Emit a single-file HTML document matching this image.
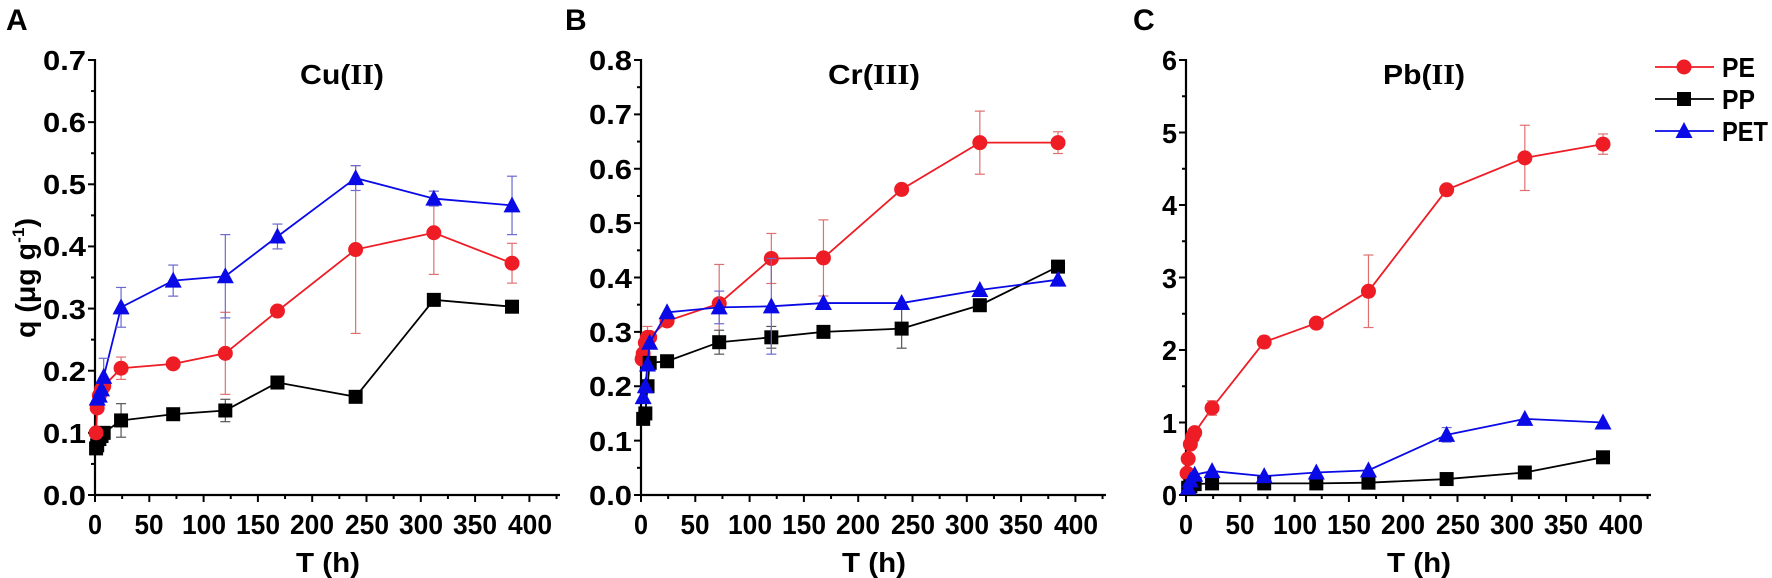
<!DOCTYPE html>
<html><head><meta charset="utf-8"><style>
html,body{margin:0;padding:0;background:#fff;}
svg{display:block;font-family:"Liberation Sans",Arial,sans-serif;font-weight:bold;}
</style></head><body>
<svg id="s" width="1772" height="578" viewBox="0 0 1772 578" xmlns="http://www.w3.org/2000/svg">
<g font-size="30" fill="#000">
<text x="6" y="30">A</text>
<text x="565" y="30">B</text>
<text x="1133" y="30">C</text>
</g>
<g id="plots"></g>
<g font-size="28" fill="#000">
<text x="300" y="84" textLength="84" lengthAdjust="spacingAndGlyphs">Cu(<tspan font-family="Liberation Serif,serif">II</tspan>)</text>
<text x="828" y="84" textLength="92" lengthAdjust="spacingAndGlyphs">Cr(<tspan font-family="Liberation Serif,serif">III</tspan>)</text>
<text x="1383" y="84" textLength="82" lengthAdjust="spacingAndGlyphs">Pb(<tspan font-family="Liberation Serif,serif">II</tspan>)</text>
<text x="328" y="572" text-anchor="middle" textLength="64" lengthAdjust="spacingAndGlyphs">T (h)</text>
<text x="874" y="572" text-anchor="middle" textLength="64" lengthAdjust="spacingAndGlyphs">T (h)</text>
<text x="1419" y="572" text-anchor="middle" textLength="64" lengthAdjust="spacingAndGlyphs">T (h)</text>
<text transform="translate(35,278) rotate(-90)" text-anchor="middle" textLength="120" lengthAdjust="spacingAndGlyphs">q (μg g<tspan font-size="17" dy="-11">-1</tspan><tspan dy="11">)</tspan></text>
<text x="1722" y="77" textLength="33" lengthAdjust="spacingAndGlyphs">PE</text>
<text x="1722" y="109" textLength="33" lengthAdjust="spacingAndGlyphs">PP</text>
<text x="1722" y="141" textLength="46" lengthAdjust="spacingAndGlyphs">PET</text>
</g>
<g font-size="28" fill="#000" text-anchor="end">
<text x="86" y="505" textLength="43" lengthAdjust="spacingAndGlyphs">0.0</text>
<text x="86" y="443" textLength="43" lengthAdjust="spacingAndGlyphs">0.1</text>
<text x="86" y="381" textLength="43" lengthAdjust="spacingAndGlyphs">0.2</text>
<text x="86" y="319" textLength="43" lengthAdjust="spacingAndGlyphs">0.3</text>
<text x="86" y="256" textLength="43" lengthAdjust="spacingAndGlyphs">0.4</text>
<text x="86" y="194" textLength="43" lengthAdjust="spacingAndGlyphs">0.5</text>
<text x="86" y="132" textLength="43" lengthAdjust="spacingAndGlyphs">0.6</text>
<text x="86" y="70" textLength="43" lengthAdjust="spacingAndGlyphs">0.7</text>
<text x="632" y="505" textLength="43" lengthAdjust="spacingAndGlyphs">0.0</text>
<text x="632" y="451" textLength="43" lengthAdjust="spacingAndGlyphs">0.1</text>
<text x="632" y="396" textLength="43" lengthAdjust="spacingAndGlyphs">0.2</text>
<text x="632" y="342" textLength="43" lengthAdjust="spacingAndGlyphs">0.3</text>
<text x="632" y="288" textLength="43" lengthAdjust="spacingAndGlyphs">0.4</text>
<text x="632" y="233" textLength="43" lengthAdjust="spacingAndGlyphs">0.5</text>
<text x="632" y="179" textLength="43" lengthAdjust="spacingAndGlyphs">0.6</text>
<text x="632" y="124" textLength="43" lengthAdjust="spacingAndGlyphs">0.7</text>
<text x="632" y="70" textLength="43" lengthAdjust="spacingAndGlyphs">0.8</text>
<text x="1177" y="505" textLength="15" lengthAdjust="spacingAndGlyphs">0</text>
<text x="1177" y="433" textLength="15" lengthAdjust="spacingAndGlyphs">1</text>
<text x="1177" y="360" textLength="15" lengthAdjust="spacingAndGlyphs">2</text>
<text x="1177" y="288" textLength="15" lengthAdjust="spacingAndGlyphs">3</text>
<text x="1177" y="215" textLength="15" lengthAdjust="spacingAndGlyphs">4</text>
<text x="1177" y="143" textLength="15" lengthAdjust="spacingAndGlyphs">5</text>
<text x="1177" y="70" textLength="15" lengthAdjust="spacingAndGlyphs">6</text>
</g>
<g font-size="28" fill="#000" text-anchor="middle">
<text x="95" y="534" textLength="14" lengthAdjust="spacingAndGlyphs">0</text>
<text x="149" y="534" textLength="29" lengthAdjust="spacingAndGlyphs">50</text>
<text x="204" y="534" textLength="44" lengthAdjust="spacingAndGlyphs">100</text>
<text x="258" y="534" textLength="44" lengthAdjust="spacingAndGlyphs">150</text>
<text x="312" y="534" textLength="44" lengthAdjust="spacingAndGlyphs">200</text>
<text x="367" y="534" textLength="44" lengthAdjust="spacingAndGlyphs">250</text>
<text x="421" y="534" textLength="44" lengthAdjust="spacingAndGlyphs">300</text>
<text x="475" y="534" textLength="44" lengthAdjust="spacingAndGlyphs">350</text>
<text x="530" y="534" textLength="44" lengthAdjust="spacingAndGlyphs">400</text>
<text x="641" y="534" textLength="14" lengthAdjust="spacingAndGlyphs">0</text>
<text x="695" y="534" textLength="29" lengthAdjust="spacingAndGlyphs">50</text>
<text x="750" y="534" textLength="44" lengthAdjust="spacingAndGlyphs">100</text>
<text x="804" y="534" textLength="44" lengthAdjust="spacingAndGlyphs">150</text>
<text x="858" y="534" textLength="44" lengthAdjust="spacingAndGlyphs">200</text>
<text x="913" y="534" textLength="44" lengthAdjust="spacingAndGlyphs">250</text>
<text x="967" y="534" textLength="44" lengthAdjust="spacingAndGlyphs">300</text>
<text x="1021" y="534" textLength="44" lengthAdjust="spacingAndGlyphs">350</text>
<text x="1076" y="534" textLength="44" lengthAdjust="spacingAndGlyphs">400</text>
<text x="1186" y="534" textLength="14" lengthAdjust="spacingAndGlyphs">0</text>
<text x="1240" y="534" textLength="29" lengthAdjust="spacingAndGlyphs">50</text>
<text x="1295" y="534" textLength="44" lengthAdjust="spacingAndGlyphs">100</text>
<text x="1349" y="534" textLength="44" lengthAdjust="spacingAndGlyphs">150</text>
<text x="1403" y="534" textLength="44" lengthAdjust="spacingAndGlyphs">200</text>
<text x="1458" y="534" textLength="44" lengthAdjust="spacingAndGlyphs">250</text>
<text x="1512" y="534" textLength="44" lengthAdjust="spacingAndGlyphs">300</text>
<text x="1566" y="534" textLength="44" lengthAdjust="spacingAndGlyphs">350</text>
<text x="1621" y="534" textLength="44" lengthAdjust="spacingAndGlyphs">400</text>
</g>
</svg>
<script>
var NS="http://www.w3.org/2000/svg",G=document.getElementById("plots");
function el(t,a){var e=document.createElementNS(NS,t);for(var k in a)e.setAttribute(k,a[k]);G.appendChild(e);return e;}
var Y0=495,YT=60,XS=54.3/50;
function marker(type,x,y,c){
 if(type=="c")el("circle",{cx:x,cy:y,r:7.5,fill:c});
 else if(type=="s")el("rect",{x:x-7,y:y-7,width:14,height:14,fill:c});
 else el("polygon",{points:(x-8.5)+","+(y+7)+" "+(x+8.5)+","+(y+7)+" "+x+","+(y-9),fill:c});
}
function panel(x0,ymax,ystep,series){
 var sy=(Y0-YT)/ymax;
 el("line",{x1:x0,y1:Y0,x2:x0,y2:YT-1,stroke:"#000","stroke-width":2.2});
 el("line",{x1:x0-1,y1:Y0,x2:x0+465,y2:Y0,stroke:"#000","stroke-width":2.2});
 for(var v=0;v<=ymax+1e-9;v+=ystep/2){var y=Y0-v*sy;var maj=Math.abs(Math.round(v/ystep)*ystep-v)<1e-9;
  el("line",{x1:x0-(maj?7:4),y1:y,x2:x0,y2:y,stroke:"#000","stroke-width":2});}
 for(var t=0;t<=425;t+=25){var x=x0+t*XS;var maj=t%50==0;
  el("line",{x1:x,y1:Y0,x2:x,y2:Y0+(maj?7:4),stroke:"#000","stroke-width":2});}
 series.forEach(function(s){
  var pts=s.d.map(function(p){return [x0+p[0]*XS,Y0-p[1]*sy,p[2]||0];});
  el("polyline",{points:pts.map(function(p){return p[0]+","+p[1]}).join(" "),fill:"none",stroke:s.c,"stroke-width":1.8});
  pts.forEach(function(p){if(p[2]){var e=p[2]*sy;
   el("line",{x1:p[0],y1:p[1]-e,x2:p[0],y2:p[1]+e,stroke:s.ec,"stroke-width":1.2});
   el("line",{x1:p[0]-5,y1:p[1]-e,x2:p[0]+5,y2:p[1]-e,stroke:s.ec,"stroke-width":1.2});
   el("line",{x1:p[0]-5,y1:p[1]+e,x2:p[0]+5,y2:p[1]+e,stroke:s.ec,"stroke-width":1.2});}});
  pts.forEach(function(p){marker(s.m,p[0],p[1],s.mc);});
 });
}
var R="#ee1c25",B="#0a0ae6";
panel(95,0.7,0.1,[
 {m:"s",c:"#000",mc:"#000",ec:"#555",d:[[1,0.075],[2,0.08],[4,0.09],[6,0.095],[8,0.1],[24,0.12,0.027],[72,0.13],[120,0.136,0.018],[168,0.181],[240,0.158],[312,0.314],[384,0.303]]},
 {m:"c",c:R,mc:R,ec:"#e07070",d:[[1,0.1],[2,0.14],[4,0.16],[6,0.17],[8,0.175],[24,0.204,0.018],[72,0.211],[120,0.228,0.066],[168,0.296],[240,0.395,0.135],[312,0.422,0.067],[384,0.373,0.032]]},
 {m:"t",c:B,mc:B,ec:"#6a6ad0",d:[[2,0.155],[4,0.16],[6,0.17],[8,0.19,0.03],[24,0.302,0.032],[72,0.345,0.025],[120,0.352,0.067],[168,0.416,0.02],[240,0.51,0.02],[312,0.477,0.012],[384,0.466,0.047]]}
]);
panel(641,0.8,0.1,[
 {m:"c",c:R,mc:R,ec:"#e07070",d:[[1,0.25],[2,0.26],[4,0.28],[6,0.29,0.02],[8,0.29],[24,0.32],[72,0.352,0.072],[120,0.435,0.046],[168,0.436,0.07],[240,0.562],[312,0.648,0.058],[384,0.648,0.02]]},
 {m:"s",c:"#000",mc:"#000",ec:"#555",d:[[2,0.14],[4,0.15],[6,0.2],[8,0.243],[24,0.246],[72,0.281,0.022],[120,0.29,0.02],[168,0.3],[240,0.306,0.036],[312,0.349],[384,0.42]]},
 {m:"t",c:B,mc:B,ec:"#6a6ad0",d:[[2,0.18],[4,0.2],[6,0.24],[8,0.28],[24,0.336],[72,0.345,0.03],[120,0.347,0.088],[168,0.353],[240,0.353],[312,0.377],[384,0.396]]}
]);
panel(1186,6,1,[
 {m:"c",c:R,mc:R,ec:"#e07070",d:[[1,0.3],[2,0.5],[4,0.7],[6,0.8],[8,0.86],[24,1.2,0.1],[72,2.11,0.08],[120,2.37],[168,2.81,0.5],[240,4.21],[312,4.65,0.45],[384,4.84,0.14]]},
 {m:"s",c:"#000",mc:"#000",ec:"#555",d:[[2,0.1],[4,0.12],[8,0.15],[24,0.16],[72,0.16],[120,0.16],[168,0.17],[240,0.22],[312,0.31],[384,0.52]]},
 {m:"t",c:B,mc:B,ec:"#6a6ad0",d:[[2,0.1],[4,0.2],[8,0.28],[24,0.33],[72,0.26],[120,0.31],[168,0.34],[240,0.83,0.1],[312,1.05],[384,1.0]]}
]);
[[67,"c",R],[99,"s","#000"],[131,"t",B]].forEach(function(l){
 el("line",{x1:1655,y1:l[0],x2:1714,y2:l[0],stroke:l[2],"stroke-width":1.8});
 marker(l[1],1684,l[0],l[2]);});
</script>
</body></html>
